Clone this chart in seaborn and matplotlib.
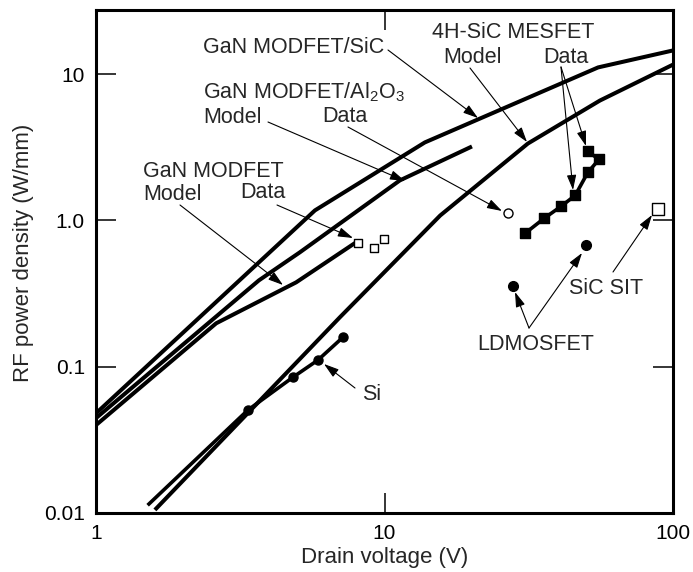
import matplotlib
matplotlib.use("Agg")
import matplotlib.pyplot as plt
import seaborn as sns
import pandas as pd
from matplotlib.ticker import FixedLocator, FixedFormatter, NullLocator

# ---------------- data ----------------
sic_model_x = [1.0, 5.74, 13.8, 55.0, 100.0]
sic_model_y = [0.048, 1.17, 3.41, 11.1, 14.5]

al2o3_model_x = [1.0, 3.67, 5.09, 11.3, 20.1]
al2o3_model_y = [0.0445, 0.389, 0.605, 1.875, 3.2]

gan_model_x = [1.0, 2.61, 4.94, 7.9]
gan_model_y = [0.0399, 0.198, 0.377, 0.70]

mesfet_model_x = [1.60, 7.01, 15.6, 31.4, 55.8, 100.0]
mesfet_model_y = [0.0105, 0.218, 1.08, 3.35, 6.59, 11.6]

si_x = [1.51, 3.36, 4.82, 5.88, 7.18]
si_y = [0.0113, 0.0505, 0.0848, 0.111, 0.159]

mesfet_data_x = [30.7, 35.7, 40.9, 45.8, 50.7, 55.4, 50.7]
mesfet_data_y = [0.815, 1.03, 1.246, 1.48, 2.13, 2.61, 2.96]

gan_data_x = [8.1, 9.2, 9.96]
gan_data_y = [0.70, 0.644, 0.742]

al2o3_data_x = [26.8]
al2o3_data_y = [1.12]

ldmos_x = [27.9, 49.9]
ldmos_y = [0.354, 0.675]

sit_x = [88.7]
sit_y = [1.19]

x_ticks = [1, 10, 100]
x_tick_labels = ["1", "10", "100"]
y_ticks = [0.01, 0.1, 1, 10]
y_tick_labels = ["0.01", "0.1", "1.0", "10"]

# ---------------- style ----------------
sns.set_theme(style="ticks")
plt.rcParams['font.family'] = ['Liberation Sans', 'DejaVu Sans']
plt.rcParams['mathtext.fontset'] = 'custom'
plt.rcParams['mathtext.rm'] = 'Liberation Sans'

W, H = 693, 572
fig = plt.figure(figsize=(W / 100, H / 100), dpi=100)
ax = fig.add_axes([96 / W, 1 - 513 / H, (673 - 96) / W, (513 - 10) / H])
ax.set_xscale('log')
ax.set_yscale('log')

LW = 2.9
def line(xs, ys, lw=LW):
    sns.lineplot(data=pd.DataFrame({'x': xs, 'y': ys}), x='x', y='y', ax=ax,
                 color='black', lw=lw, sort=False, estimator=None,
                 solid_capstyle='butt', zorder=2)

line(sic_model_x, sic_model_y)
line(al2o3_model_x, al2o3_model_y)
line(gan_model_x, gan_model_y)
line(mesfet_model_x, mesfet_model_y)
line(si_x, si_y, lw=2.6)
line(mesfet_data_x, mesfet_data_y, lw=2.6)

def pts(xs, ys, marker, size, filled=True, lw=1.0):
    sns.scatterplot(x=xs, y=ys, ax=ax, marker=marker, s=size ** 2,
                    color='black' if filled else 'white',
                    edgecolor='black', linewidth=lw, zorder=4)

pts(si_x[1:], si_y[1:], 'o', 6.5)
pts(mesfet_data_x, mesfet_data_y, 's', 6.8)
pts(gan_data_x, gan_data_y, 's', 6.0, filled=False)
pts(al2o3_data_x, al2o3_data_y, 'o', 6.5, filled=False)
pts(ldmos_x, ldmos_y, 'o', 7.0)
pts(sit_x, sit_y, 's', 8.5, filled=False)

ax.set_xlim(1, 100)
ax.set_ylim(0.01, 27.4)
ax.xaxis.set_major_locator(FixedLocator(x_ticks))
ax.xaxis.set_major_formatter(FixedFormatter(x_tick_labels))
ax.yaxis.set_major_locator(FixedLocator(y_ticks))
ax.yaxis.set_major_formatter(FixedFormatter(y_tick_labels))
ax.xaxis.set_minor_locator(NullLocator())
ax.yaxis.set_minor_locator(NullLocator())
ax.tick_params(which='major', direction='in', length=14.5, width=1.1,
               top=True, right=True, labelsize=15, pad=8, color='black',
               labelcolor='black')
for s in ax.spines.values():
    s.set_visible(True)
    s.set_linewidth(2.2)
    s.set_color('black')
ax.set_xlabel('')
ax.set_ylabel('')

# axis titles
fig.text(385 / W, 1 - 558 / H, 'Drain voltage (V)', ha='center', va='center', fontsize=16)
fig.text(24 / W, 1 - 253 / H, 'RF power density (W/mm)', ha='center', va='center',
         rotation=90, fontsize=16)

# annotation texts (left, baseline in pixels)
FS = 15.5
def label(x, y, s):
    fig.text(x / W, 1 - y / H, s, ha='left', va='baseline', fontsize=FS)

label(203, 53, 'GaN MODFET/SiC')
label(203, 98, r'GaN MODFET/Al$_\mathregular{2}$O$_\mathregular{3}$')
label(203, 123, 'Model')
label(322, 122, 'Data')
label(143, 177, 'GaN MODFET')
label(143, 200, 'Model')
label(240, 198, 'Data')
label(432, 38, '4H-SiC MESFET')
label(443, 63, 'Model')
label(543, 63, 'Data')
label(362, 400, 'Si')
label(477, 350, 'LDMOSFET')
label(569, 294, 'SiC SIT')

def arrow(x0, y0, x1, y1):
    ax.annotate('', xy=(x1, H - y1), xycoords='figure pixels',
                xytext=(x0, H - y0), textcoords='figure pixels',
                arrowprops=dict(arrowstyle='-|>,head_length=0.7,head_width=0.22',
                                mutation_scale=13, lw=0.8, color='black',
                                shrinkA=0, shrinkB=0), zorder=5)

arrow(388, 50, 478, 118)
arrow(268, 122, 405, 181)
arrow(348, 127, 502, 211)
arrow(180, 205, 283, 285)
arrow(277, 205, 353, 238)
arrow(470, 68, 527, 142)
arrow(561, 67, 573, 190)
arrow(561, 67, 586, 146)
arrow(355, 388, 324, 364)
arrow(529, 328, 515, 292)
arrow(529, 328, 582, 253)
arrow(613, 272, 652, 215)

fig.savefig('out.png', dpi=100)
